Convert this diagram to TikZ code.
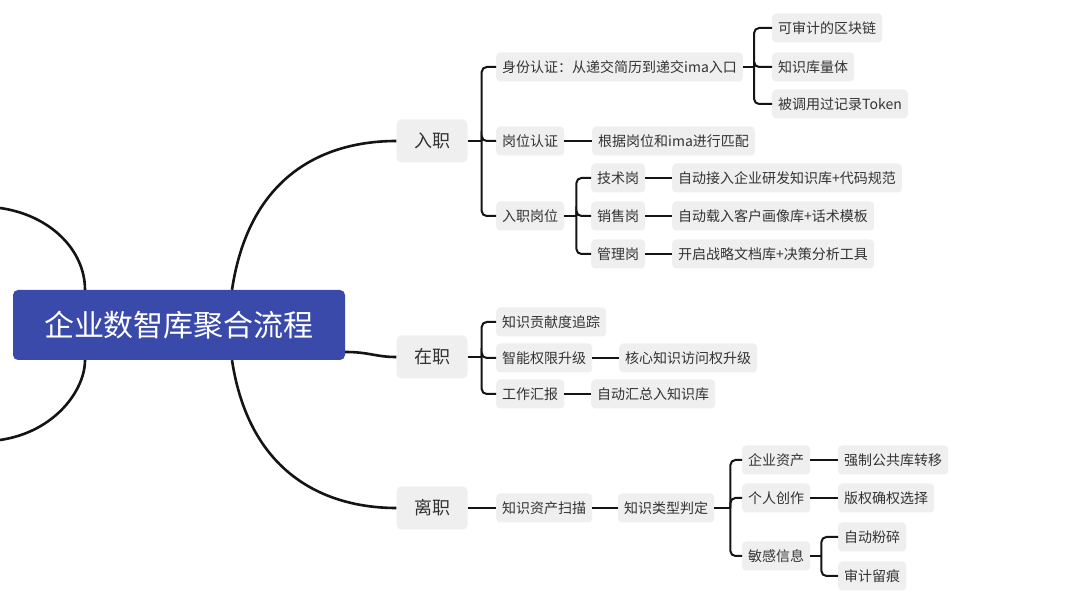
\documentclass[tikz,border=0pt]{standalone}
\usepackage{fontspec}
\setmainfont{Noto Sans CJK SC}
\definecolor{cblue}{RGB}{58,74,170}
\definecolor{boxgray}{RGB}{239,239,239}
\definecolor{txt}{RGB}{51,51,51}
\definecolor{lin}{RGB}{20,20,20}
\tikzset{
  sub/.style={fill=boxgray, rounded corners=4pt, inner xsep=6pt, inner ysep=0pt, minimum height=29pt, text=txt, font=\fontsize{14}{16}\selectfont, anchor=west},
  lvl/.style={fill=boxgray, rounded corners=5pt, inner sep=0pt, minimum width=71pt, minimum height=43pt, text=txt, font=\fontsize{18}{20}\selectfont},
  centre/.style={fill=cblue, rounded corners=5pt, inner sep=0pt, minimum width=332pt, minimum height=70pt, text=white, font=\fontsize{30}{32}\selectfont},
  br/.style={line width=2pt, draw=lin, rounded corners=5pt},
  link/.style={line width=2pt, draw=lin},
  bigc/.style={line width=2.6pt, draw=lin},
}
\begin{document}
\begin{tikzpicture}[x=1pt,y=-1pt]
\useasboundingbox (0,0) rectangle (1080,601);
\fill[white] (0,0) rectangle (1080,601);
\begin{scope}
\clip (0,0) rectangle (1080,601);
% centre
\node[centre] (C) at (179,325) {企业数智库聚合流程};
\coordinate (L1) at (0,208);
\coordinate (L2) at (0,440);
% level 1
\node[lvl] (rz) at (432,141) {入职};
\node[lvl] (zz) at (432,357) {在职};
\node[lvl] (lz) at (432,508) {离职};
% main curves
\draw[bigc] ([xshift=-94pt]C.north) .. controls (85,250) and (50,215) .. (L1);
\draw[bigc] ([xshift=-94pt]C.south) .. controls (85,390) and (55,432) .. (L2);
\draw[bigc] ([xshift=53pt]C.north) .. controls (250,170) and (330,141) .. (rz.west);
\draw[bigc] ([xshift=53pt]C.south) .. controls (250,478) and (330,508) .. (lz.west);
\draw[bigc] ([yshift=-27pt]C.east) .. controls (370,352) and (375,357) .. (zz.west);
% 入职 subtree
\node[sub] (sf) at (496,67) {身份认证：从递交简历到递交ima入口};
\node[sub] (gw) at (496,141) {岗位认证};
\node[sub] (rg) at (496,216) {入职岗位};
\node[sub] (pp) at (592,141) {根据岗位和ima进行匹配};
\node[sub] (js) at (591,178) {技术岗};
\node[sub] (xs) at (591,216) {销售岗};
\node[sub] (gl) at (591,254) {管理岗};
\node[sub] (js2) at (672,178) {自动接入企业研发知识库+代码规范};
\node[sub] (xs2) at (672,216) {自动载入客户画像库+话术模板};
\node[sub] (gl2) at (672,254) {开启战略文档库+决策分析工具};
\node[sub] (qk) at (772,28) {可审计的区块链};
\node[sub] (zs) at (772,67) {知识库量体};
\node[sub] (tk) at (772,104) {被调用过记录Token};

\draw[link] (rz.east) -- ([xshift=14pt]rz.east);
\foreach \c in {sf,gw,rg} \draw[br] ([xshift=14pt]rz.east) |- (\c.west);
\draw[link] (gw.east) -- (pp.west);
\draw[link] (rg.east) -- ([xshift=12pt]rg.east);
\foreach \c in {js,xs,gl} \draw[br] ([xshift=12pt]rg.east) |- (\c.west);
\draw[link] (js.east) -- (js2.west);
\draw[link] (xs.east) -- (xs2.west);
\draw[link] (gl.east) -- (gl2.west);
\draw[link] (sf.east) -- ([xshift=11pt]sf.east);
\foreach \c in {qk,zs,tk} \draw[br] ([xshift=11pt]sf.east) |- (\c.west);

% 在职 subtree
\node[sub] (gx) at (496,322) {知识贡献度追踪};
\node[sub] (zn) at (496,358) {智能权限升级};
\node[sub] (gz) at (496,394) {工作汇报};
\node[sub] (hx) at (619,358) {核心知识访问权升级};
\node[sub] (zd) at (591,394) {自动汇总入知识库};
\draw[link] (zz.east) -- ([xshift=14pt]zz.east);
\foreach \c in {gx,zn,gz} \draw[br] ([xshift=14pt]zz.east) |- (\c.west);
\draw[link] (zn.east) -- (hx.west);
\draw[link] (gz.east) -- (zd.west);

% 离职 subtree
\node[sub] (sm) at (496,508) {知识资产扫描};
\node[sub] (pd) at (618,508) {知识类型判定};
\node[sub] (qy) at (742,460) {企业资产};
\node[sub] (gr) at (742,498) {个人创作};
\node[sub] (mg) at (742,556) {敏感信息};
\node[sub] (qz) at (838,460) {强制公共库转移};
\node[sub] (bq) at (838,498) {版权确权选择};
\node[sub] (fs) at (838,537) {自动粉碎};
\node[sub] (sj) at (838,576) {审计留痕};
\draw[link] (lz.east) -- (sm.west);
\draw[link] (sm.east) -- (pd.west);
\draw[link] (pd.east) -- ([xshift=16pt]pd.east);
\foreach \c in {qy,gr,mg} \draw[br] ([xshift=16pt]pd.east) |- (\c.west);
\draw[link] (qy.east) -- (qz.west);
\draw[link] (gr.east) -- (bq.west);
\draw[link] (mg.east) -- ([xshift=11pt]mg.east);
\foreach \c in {fs,sj} \draw[br] ([xshift=11pt]mg.east) |- (\c.west);
\end{scope}
\end{tikzpicture}
\end{document}
